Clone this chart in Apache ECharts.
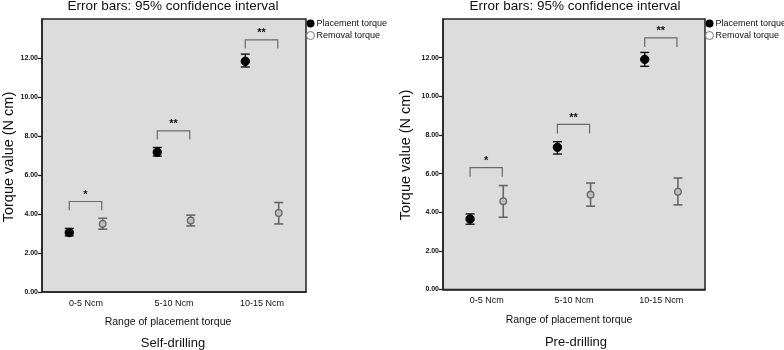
<!DOCTYPE html>
<html>
<head>
<meta charset="utf-8">
<script src="https://cdn.jsdelivr.net/npm/echarts@6/dist/echarts.min.js"></script>
<style>html,body{margin:0;padding:0;background:#fff;}#c{width:784px;height:350px;}</style>
</head>
<body>
<div id="c"></div>
<script>
const categories = ['0-5 Ncm', '5-10 Ncm', '10-15 Ncm'];
const yTickValues = [0, 2, 4, 6, 8, 10, 12];
const sigLabels = ['*', '**', '**'];

// Self-drilling
const selfPlacementMean = [3.05, 7.17, 11.83];
const selfPlacementLow  = [2.88, 6.97, 11.54];
const selfPlacementHigh = [3.26, 7.41, 12.20];
const selfRemovalMean   = [3.49, 3.67, 4.05];
const selfRemovalLow    = [3.22, 3.39, 3.49];
const selfRemovalHigh   = [3.78, 3.94, 4.59];
const selfBracketTop    = [4.64, 8.26, 12.93];
const selfBracketLeg    = [4.19, 7.82, 12.49];

// Pre-drilling
const prePlacementMean = [3.65, 7.36, 11.91];
const prePlacementLow  = [3.38, 7.01, 11.55];
const prePlacementHigh = [3.91, 7.65, 12.27];
const preRemovalMean   = [4.57, 4.91, 5.06];
const preRemovalLow    = [3.74, 4.31, 4.38];
const preRemovalHigh   = [5.38, 5.51, 5.77];
const preBracketTop    = [6.31, 8.55, 13.02];
const preBracketLeg    = [5.84, 8.08, 12.55];

const OFFSET = 0.19;
const FONT = 'Liberation Sans, Arial, sans-serif';

function pointData(mean, low, high) {
  return categories.map((c, i) => [i, mean[i], low[i], high[i]]);
}
function bracketData(top, leg) {
  return categories.map((c, i) => [i, top[i], leg[i], sigLabels[i]]);
}

function errRender(side, filled) {
  return function (params, api) {
    const idx = api.value(0);
    const bw = api.size([1, 0])[0];
    const c = api.coord([idx, api.value(1)]);
    const lo = api.coord([idx, api.value(2)]);
    const hi = api.coord([idx, api.value(3)]);
    const x = c[0] + side * OFFSET * bw;
    const col = filled ? '#111' : '#666';
    const cap = 4.5;
    const lw = filled ? 1.4 : 1.6;
    return {
      type: 'group',
      children: [
        { type: 'line', shape: { x1: x, y1: lo[1], x2: x, y2: hi[1] }, style: { stroke: col, lineWidth: lw } },
        { type: 'line', shape: { x1: x - cap, y1: lo[1], x2: x + cap, y2: lo[1] }, style: { stroke: col, lineWidth: lw } },
        { type: 'line', shape: { x1: x - cap, y1: hi[1], x2: x + cap, y2: hi[1] }, style: { stroke: col, lineWidth: lw } },
        filled
          ? { type: 'circle', shape: { cx: x, cy: c[1], r: 4.2 }, style: { fill: '#000', stroke: '#000' } }
          : { type: 'circle', shape: { cx: x, cy: c[1], r: 3.3 }, style: { fill: '#bdbdbd', stroke: '#666', lineWidth: 1.3 } }
      ]
    };
  };
}

function bracketRender(params, api) {
  const idx = api.value(0);
  const bw = api.size([1, 0])[0];
  const top = api.coord([idx, api.value(1)]);
  const leg = api.coord([idx, api.value(2)]);
  const x1 = top[0] - OFFSET * bw;
  const x2 = top[0] + OFFSET * bw - 1;
  const label = sigLabels[idx];
  return {
    type: 'group',
    children: [
      { type: 'polyline', shape: { points: [[x1, leg[1]], [x1, top[1]], [x2, top[1]], [x2, leg[1]]] }, style: { stroke: '#6a6a6a', lineWidth: 1.2, fill: null } },
      { type: 'text', style: { text: label, x: (x1 + x2) / 2, y: top[1] - 1, align: 'center', verticalAlign: 'bottom', fontSize: 11, fontWeight: 'bold', fill: '#111', fontFamily: FONT } }
    ]
  };
}

function xAxisCfg(gi) {
  return {
    type: 'category', gridIndex: gi, data: categories,
    axisLine: { lineStyle: { color: '#222', width: 1.5 } },
    axisTick: { alignWithLabel: true, length: 4, lineStyle: { color: '#222', width: 1.3 } },
    axisLabel: { color: '#111', fontSize: 9, fontFamily: FONT, margin: 7 },
    splitLine: { show: false }
  };
}
function yAxisCfg(gi) {
  return {
    type: 'value', gridIndex: gi, min: 0, max: 14, interval: 2,
    axisLine: { show: true, lineStyle: { color: '#222', width: 1.5 } },
    axisTick: { show: true, length: 4, customValues: yTickValues, lineStyle: { color: '#222', width: 1.3 } },
    axisLabel: { color: '#111', fontSize: 7, fontWeight: 'bold', fontFamily: FONT, margin: 4,
      customValues: yTickValues, formatter: v => Number(v).toFixed(2) },
    splitLine: { show: false }
  };
}

const chart = echarts.init(document.getElementById('c'), null, { renderer: 'canvas' });

function txt(text, x, y, size, extra) {
  return Object.assign({ type: 'text', x: x, y: y,
    style: { text: text, fontSize: size, fontFamily: FONT, fill: '#111', align: 'center', verticalAlign: 'middle' } }, extra || {});
}

const legendData = [
  { name: 'Placement torque', icon: 'circle', itemStyle: { color: '#000', borderColor: '#000' } },
  { name: 'Removal torque', icon: 'circle', itemStyle: { color: '#fff', borderColor: '#777', borderWidth: 1 } }
];
function legendCfg(left) {
  return {
    left: left, top: 19, orient: 'vertical', itemWidth: 8, itemHeight: 8, itemGap: 3,
    data: legendData, selectedMode: false, padding: 0,
    textStyle: { fontSize: 9, fontFamily: FONT, color: '#111', padding: [0, 0, 0, -3] }
  };
}

chart.setOption({
  animation: false,
  backgroundColor: '#fff',
  grid: [
    { left: 42, top: 19, width: 264, height: 273, show: true, backgroundColor: '#dcdcdc', borderColor: '#222', borderWidth: 1.5 },
    { left: 443, top: 19, width: 262, height: 270.5, show: true, backgroundColor: '#dcdcdc', borderColor: '#222', borderWidth: 1.5 }
  ],
  legend: [legendCfg(306), legendCfg(705)],
  xAxis: [xAxisCfg(0), xAxisCfg(1)],
  yAxis: [yAxisCfg(0), yAxisCfg(1)],
  series: [
    { name: 'Placement torque', type: 'custom', xAxisIndex: 0, yAxisIndex: 0, renderItem: errRender(-1, true), data: pointData(selfPlacementMean, selfPlacementLow, selfPlacementHigh), encode: { x: 0, y: [1, 2, 3] }, z: 5 },
    { name: 'Removal torque', type: 'custom', xAxisIndex: 0, yAxisIndex: 0, renderItem: errRender(1, false), data: pointData(selfRemovalMean, selfRemovalLow, selfRemovalHigh), encode: { x: 0, y: [1, 2, 3] }, z: 5 },
    { name: 'sig-self', type: 'custom', xAxisIndex: 0, yAxisIndex: 0, renderItem: bracketRender, data: bracketData(selfBracketTop, selfBracketLeg), encode: { x: 0, y: [1, 2] }, z: 4 },
    { name: 'Placement torque', type: 'custom', xAxisIndex: 1, yAxisIndex: 1, renderItem: errRender(-1, true), data: pointData(prePlacementMean, prePlacementLow, prePlacementHigh), encode: { x: 0, y: [1, 2, 3] }, z: 5 },
    { name: 'Removal torque', type: 'custom', xAxisIndex: 1, yAxisIndex: 1, renderItem: errRender(1, false), data: pointData(preRemovalMean, preRemovalLow, preRemovalHigh), encode: { x: 0, y: [1, 2, 3] }, z: 5 },
    { name: 'sig-pre', type: 'custom', xAxisIndex: 1, yAxisIndex: 1, renderItem: bracketRender, data: bracketData(preBracketTop, preBracketLeg), encode: { x: 0, y: [1, 2] }, z: 4 }
  ],
  graphic: [
    txt('Error bars: 95% confidence interval', 173, 6, 13.5),
    txt('Error bars: 95% confidence interval', 575, 6, 13.5),
    txt('Torque value (N cm)', 9, 157, 14.5, { rotation: Math.PI / 2 }),
    txt('Torque value (N cm)', 406, 155, 14.5, { rotation: Math.PI / 2 }),
    txt('Range of placement torque', 168, 322, 10.5),
    txt('Range of placement torque', 569, 320, 10.5),
    txt('Self-drilling', 173, 343, 13),
    txt('Pre-drilling', 576, 342, 13)
  ]
});
</script>
</body>
</html>
